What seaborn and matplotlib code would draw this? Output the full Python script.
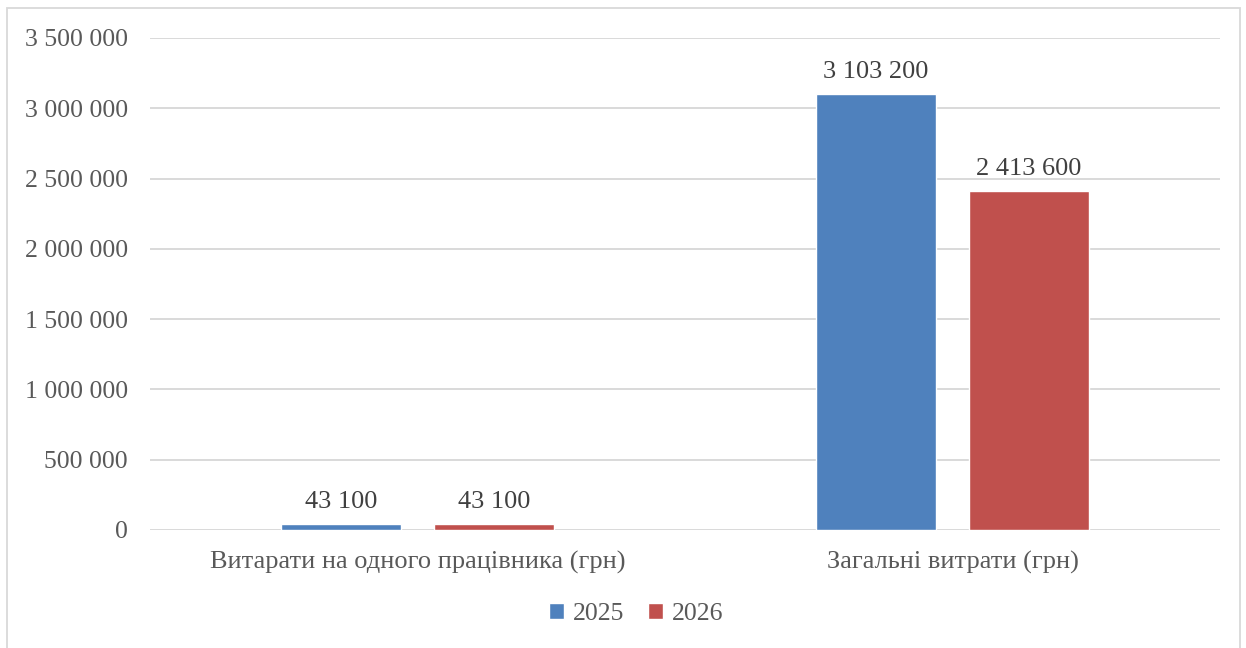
import pandas as pd
import seaborn as sns
import matplotlib.pyplot as plt
from matplotlib.patches import Rectangle
from matplotlib.ticker import FuncFormatter

# дані
categories = ["Витарати на одного працівника (грн)", "Загальні витрати (грн)"]
years = ["2025", "2026"]
values_2025 = [43100, 3103200]
values_2026 = [43100, 2413600]

df = pd.DataFrame({
    "cat": categories * 2,
    "year": [years[0]] * 2 + [years[1]] * 2,
    "value": values_2025 + values_2026,
})

sns.set_style("white")
plt.rcParams['font.family'] = ['Liberation Serif', 'DejaVu Serif']
txt = "#595959"

def fmt(v, pos=None):
    return "{:,.0f}".format(v).replace(",", " ")

fig = plt.figure(figsize=(12.46, 6.48), dpi=100)
ax = fig.add_axes([150/1246, 1 - 530/648, 1070/1246, 492/648])

sns.barplot(data=df, x="cat", y="value", hue="year", order=categories,
            hue_order=years, palette=["#4F81BD", "#C0504D"], saturation=1,
            width=0.572, gap=0.216, ax=ax, legend=True)

ax.set_ylim(0, 3500000)
ax.set_yticks(range(0, 3500001, 500000))
ax.yaxis.set_major_formatter(FuncFormatter(fmt))
ax.grid(axis="y", color="#D9D9D9", linewidth=1.4)
ax.set_axisbelow(True)
for s in ax.spines.values():
    s.set_visible(False)
ax.set_xlabel("")
ax.set_ylabel("")
ax.tick_params(axis="y", length=0, pad=16, labelsize=18.5, labelcolor=txt)
ax.tick_params(axis="x", length=0, pad=15, labelsize=19, labelcolor=txt)

# підписи значень
for c in ax.containers:
    ax.bar_label(c, labels=[fmt(v) for v in c.datavalues], padding=8,
                 fontsize=19, color="#404040")

# легенда
handles, labels = ax.get_legend_handles_labels()
ax.legend_.remove()
fig.legend(handles, labels, loc="center", bbox_to_anchor=(636/1246, 1 - 614/648),
           ncol=2, frameon=False, fontsize=18.5, labelcolor=txt,
           handlelength=0.6, handleheight=0.6, handletextpad=0.35,
           columnspacing=0.9)

# рамка діаграми
fig.patches.append(Rectangle((7/1246, -0.01), 1233/1246, 1 - 8/648 + 0.01,
                             transform=fig.transFigure, fill=False,
                             edgecolor="#D9D9D9", linewidth=1.3))

fig.savefig("out.png", dpi=100)
